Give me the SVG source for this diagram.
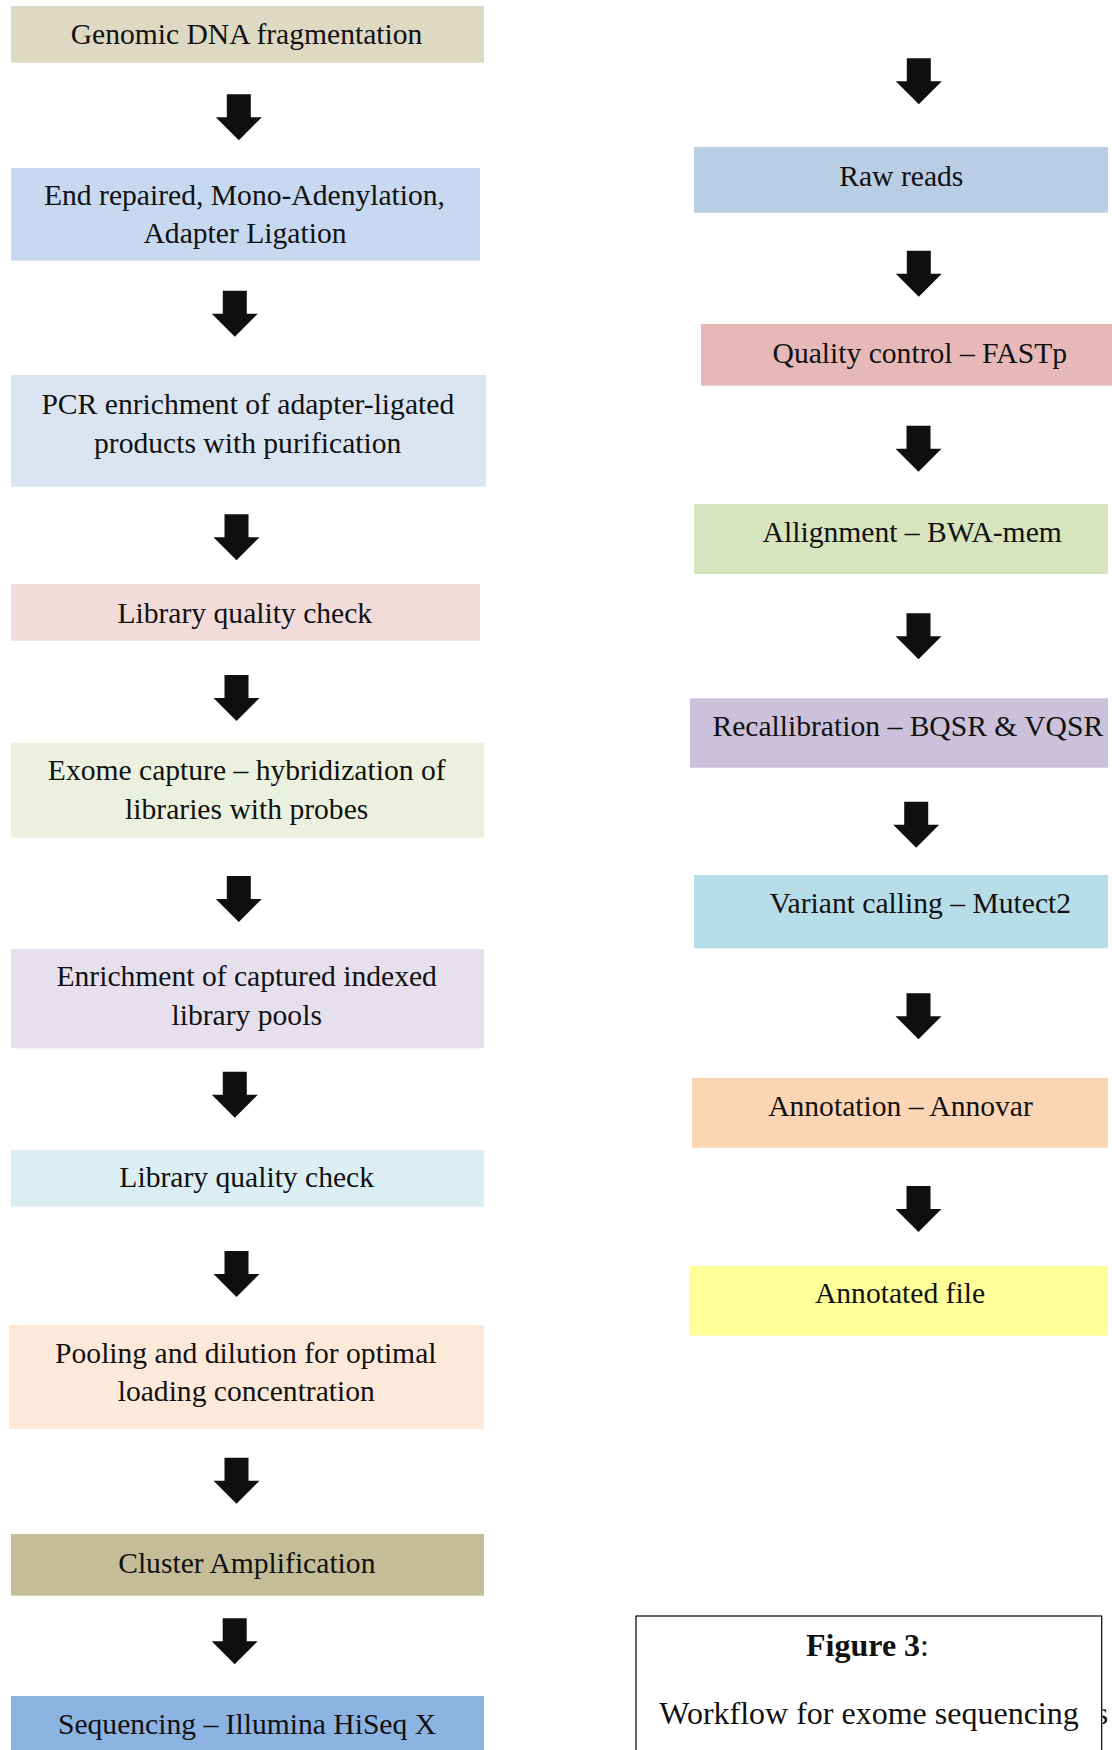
<svg xmlns="http://www.w3.org/2000/svg" xmlns:xlink="http://www.w3.org/1999/xlink" width="1112" height="1750" viewBox="0 0 1112 1750">
<style>
text{font-family:"Liberation Serif","Times New Roman",serif;font-size:29.6px;fill:#111;text-anchor:middle}
.cap{font-size:32px}
.b{font-weight:bold}
.arrow{fill:#0f0f0f}
</style>
<defs>
<path id="arr" d="M-12,0 H12 V23 H23 L0,46 L-23,23 H-12 Z"/>
<clipPath id="edge"><rect x="1102.5" y="1690" width="20" height="50"/></clipPath>
</defs>
<rect width="1112" height="1750" fill="#fff"/>
<g id="n1"><rect x="11" y="6" width="473" height="56.7" fill="#DDD9C3"/><text x="246.5" y="43.5">Genomic DNA fragmentation</text></g>
<g id="n2"><rect x="11" y="168" width="469" height="92.7" fill="#C6D9F1"/><text x="244.5" y="205">End repaired, Mono-Adenylation,</text><text x="245" y="242.7">Adapter Ligation</text></g>
<g id="n3"><rect x="11" y="375" width="475" height="111.7" fill="#DBE5F1"/><text x="247.8" y="413.7">PCR enrichment of adapter-ligated</text><text x="247.7" y="452.7">products with purification</text></g>
<g id="n4"><rect x="11" y="584" width="469" height="56.7" fill="#F2DCDB"/><text x="244.8" y="622.7">Library quality check</text></g>
<g id="n5"><rect x="11" y="742.7" width="473" height="95" fill="#EBF1DE"/><text x="246.7" y="780">Exome capture – hybridization of</text><text x="246.7" y="819.3">libraries with probes</text></g>
<g id="n6"><rect x="11" y="949" width="473" height="99.3" fill="#E5E0EC"/><text x="246.7" y="986">Enrichment of captured indexed</text><text x="246.7" y="1025.3">library pools</text></g>
<g id="n7"><rect x="11" y="1150" width="473" height="56.7" fill="#DBEEF4"/><text x="246.7" y="1186.7">Library quality check</text></g>
<g id="n8"><rect x="9" y="1325" width="475" height="104" fill="#FDE9D9"/><text x="245.8" y="1362.7">Pooling and dilution for optimal</text><text x="246.3" y="1401">loading concentration</text></g>
<g id="n9"><rect x="11" y="1534" width="473" height="61.7" fill="#C4BD97"/><text x="246.8" y="1572.7">Cluster Amplification</text></g>
<g id="n10"><rect x="11" y="1696" width="473" height="70" fill="#8DB3E2"/><text x="247" y="1734">Sequencing – Illumina HiSeq X</text></g>
<g id="r1"><rect x="694" y="147" width="414" height="65.7" fill="#B9CDE5"/><text x="901.3" y="186">Raw reads</text></g>
<g id="r2"><rect x="701" y="324" width="420" height="61.7" fill="#E6B9B8"/><text x="919.8" y="362.7">Quality control – FASTp</text></g>
<g id="r3"><rect x="694" y="504" width="414" height="70" fill="#D7E4BD"/><text x="912.2" y="541.7">Allignment – BWA-mem</text></g>
<g id="r4"><rect x="690" y="698.3" width="418" height="69.4" fill="#CCC1DA"/><text x="907.8" y="736">Recallibration – BQSR &amp; VQSR</text></g>
<g id="r5"><rect x="694" y="875" width="414" height="73.3" fill="#B7DEE8"/><text x="920.3" y="912.7">Variant calling – Mutect2</text></g>
<g id="r6"><rect x="692" y="1078" width="416" height="69.7" fill="#FCD5B5"/><text x="900.5" y="1116">Annotation – Annovar</text></g>
<g id="r7"><rect x="690" y="1266" width="418" height="69.7" fill="#FFFF99"/><text x="900" y="1302.7">Annotated file</text></g>
<g id="caption"><rect x="636" y="1616" width="465.7" height="150" fill="#fff" stroke="#000" stroke-width="1.2"/><text class="cap" x="867.5" y="1656"><tspan class="b">Figure 3</tspan>:</text><text class="cap" x="869" y="1724">Workflow for exome sequencing</text><text class="cap" clip-path="url(#edge)" x="1102" y="1724">s</text></g>
<g id="connectors" class="arrow">
<use xlink:href="#arr" x="238.8" y="94.3"/>
<use xlink:href="#arr" x="234.8" y="290.7"/>
<use xlink:href="#arr" x="236.5" y="514.3"/>
<use xlink:href="#arr" x="236.5" y="675"/>
<use xlink:href="#arr" x="238.8" y="876"/>
<use xlink:href="#arr" x="234.8" y="1071.7"/>
<use xlink:href="#arr" x="236.5" y="1251"/>
<use xlink:href="#arr" x="236.5" y="1457.7"/>
<use xlink:href="#arr" x="234.7" y="1618.3"/>
<use xlink:href="#arr" x="918.8" y="58.3"/>
<use xlink:href="#arr" x="918.8" y="250.7"/>
<use xlink:href="#arr" x="918.5" y="425.7"/>
<use xlink:href="#arr" x="918.5" y="613.3"/>
<use xlink:href="#arr" x="916.2" y="801.7"/>
<use xlink:href="#arr" x="918.5" y="993.3"/>
<use xlink:href="#arr" x="918.5" y="1186"/>
</g>
</svg>
